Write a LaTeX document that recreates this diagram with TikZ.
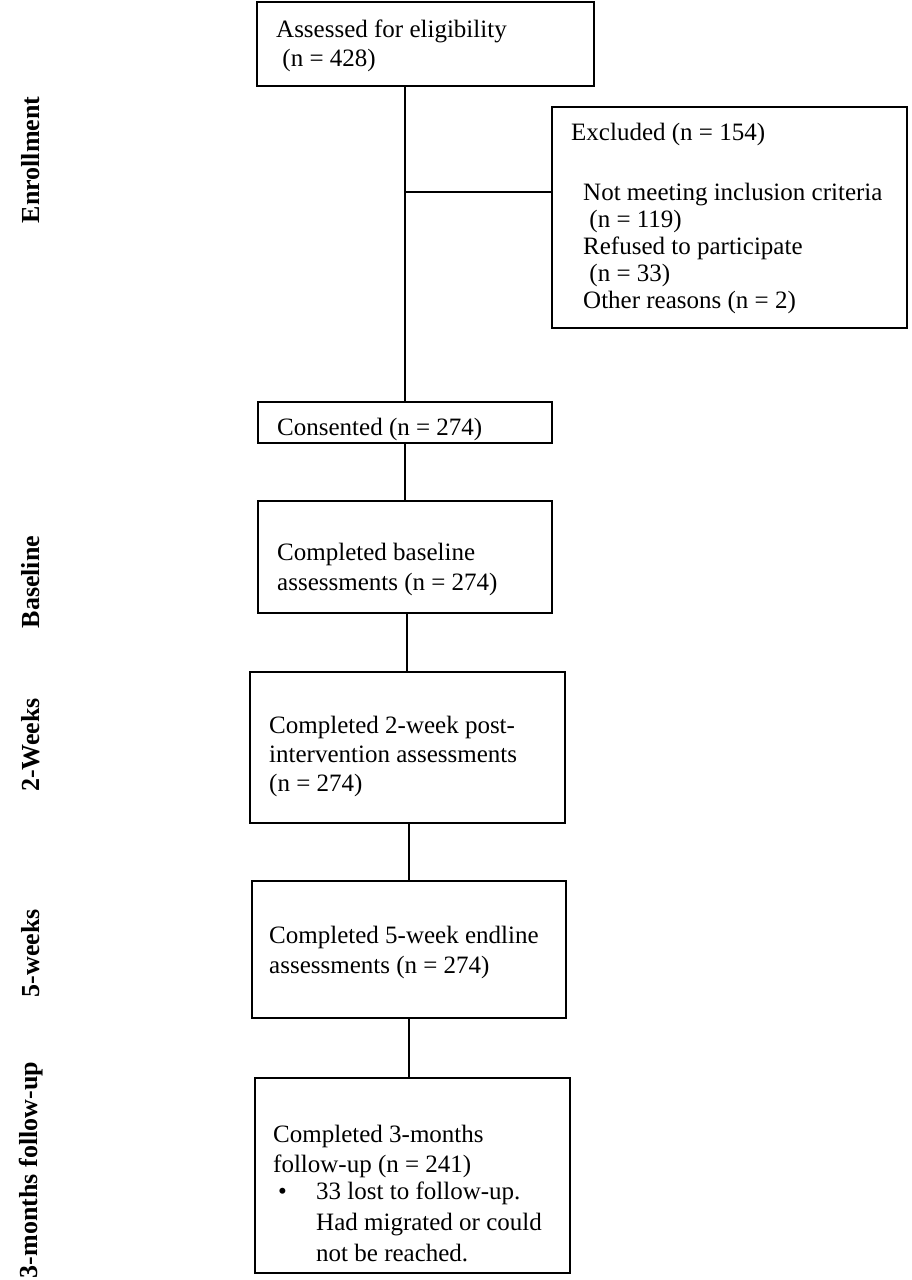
\documentclass[tikz,border=0pt]{standalone}
\usepackage{fontspec}
\setmainfont{Liberation Serif}
\newcommand{\tlines}[1]{\begin{tabular}[t]{@{}l@{}}#1\end{tabular}}
\begin{document}
\begin{tikzpicture}[x=1pt,y=-1pt,
  box/.style={draw,line width=1.5pt},
  txt/.style={anchor=base west,inner sep=0pt,font=\fontsize{25}{29}\selectfont},
  side/.style={rotate=90,font=\fontsize{26}{30}\selectfont\bfseries},
  ln/.style={line width=1.5pt}]
\useasboundingbox (0,0) rectangle (911,1280);
\draw[box] (257,2) rectangle (594,86);
\node[txt] (ta) at (276,37) {\tlines{Assessed for eligibility\\\ (n = 428)}};
\draw[box] (552,107) rectangle (907,328); \coordinate (ex) at (552,192);
\node[txt] (tex) at (571,140) {Excluded (n = 154)};
\node[txt,font=\fontsize{25}{27}\selectfont] (tex2) at (583,200) {\tlines{Not meeting inclusion criteria\\\ (n = 119)\\Refused to participate\\\ (n = 33)\\Other reasons (n = 2)}};
\draw[box] (258,402) rectangle (552,443);
\begin{scope}
\clip (258,402) rectangle (552,440);
\node[txt] (tc) at (277,435) {Consented (n = 274)};
\end{scope}
\draw[box] (258,501) rectangle (552,613);
\node[txt,font=\fontsize{25}{30}\selectfont] (tb) at (277,560) {\tlines{Completed baseline\\assessments (n = 274)}};
\draw[box] (250,672) rectangle (565,823);
\node[txt] (tw) at (269,733) {\tlines{Completed 2-week post-\\intervention assessments\\(n = 274)}};
\draw[box] (252,881) rectangle (566,1018);
\node[txt,font=\fontsize{25}{30}\selectfont] (tf) at (269,943) {\tlines{Completed 5-week endline\\assessments (n = 274)}};
\draw[box] (255,1078) rectangle (570,1273);
\node[txt,font=\fontsize{25}{30}\selectfont] (tm) at (273,1142) {\tlines{Completed 3-months\\follow-up (n = 241)}};
\node[txt] (bul) at (278,1199) {\textbullet};
\node[txt,font=\fontsize{25}{31}\selectfont] (tm2) at (316,1199) {\tlines{33 lost to follow-up.\\Had migrated or could\\not be reached.}};
\draw[ln] (405,86) -- (405,402);
\draw[ln] (405,192) -- (ex);
\draw[ln] (405,443) -- (405,501);
\draw[ln] (407,613) -- (407,672);
\draw[ln] (409,823) -- (409,881);
\draw[ln] (409,1018) -- (409,1078);
\node[side] (s1) at (31,160) {Enrollment};
\node[side] (s2) at (31,582) {Baseline};
\node[side] (s3) at (31,745) {2-Weeks};
\node[side] (s4) at (31,953) {5-weeks};
\node[side] (s5) at (31,1170) {3-months follow-up};
\end{tikzpicture}
\end{document}
